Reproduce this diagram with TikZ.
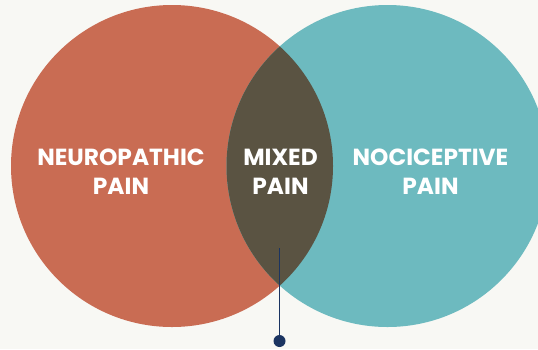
\documentclass[tikz,border=0pt]{standalone}
\usepackage{fontspec}
\setmainfont{Poppins}[UprightFont=* Bold]
\definecolor{bgc}{HTML}{F8F8F4}
\definecolor{neurc}{HTML}{C96C53}
\definecolor{nocic}{HTML}{6DBABF}
\definecolor{mixc}{HTML}{5A5342}
\definecolor{linec}{HTML}{1B3461}
\tikzset{
  lbl/.style={text=white, font=\fontsize{23.4}{29}\selectfont, align=center, anchor=base, inner sep=0pt},
  pin/.style={circle, fill=linec, minimum size=12bp, inner sep=0pt},
}
\begin{document}
\begin{tikzpicture}[x=1bp,y=-1bp]
\useasboundingbox (0,0) rectangle (538,349);
\clip (0,0) rectangle (538,349);
\fill[bgc] (0,0) rectangle (538,349);
\fill[neurc] (172,166) circle[radius=161];
\fill[nocic] (387.5,166) circle[radius=161];
\begin{scope}
  \clip (172,166) circle[radius=161];
  \fill[mixc] (387.5,166) circle[radius=161];
\end{scope}
\node[lbl] (neuro) at (121,194) {NEUROPATHIC\\PAIN};
\node[lbl] (mixed) at (280.5,194) {MIXED\\PAIN};
\node[lbl] (noci) at (430.5,194) {NOCICEPTIVE\\PAIN};
\coordinate (linetop) at (279.5,248);
\node[pin] (dot) at (279.5,341) {};
\draw[linec, line width=1.3bp] (linetop) -- (dot.center);
\end{tikzpicture}
\end{document}
